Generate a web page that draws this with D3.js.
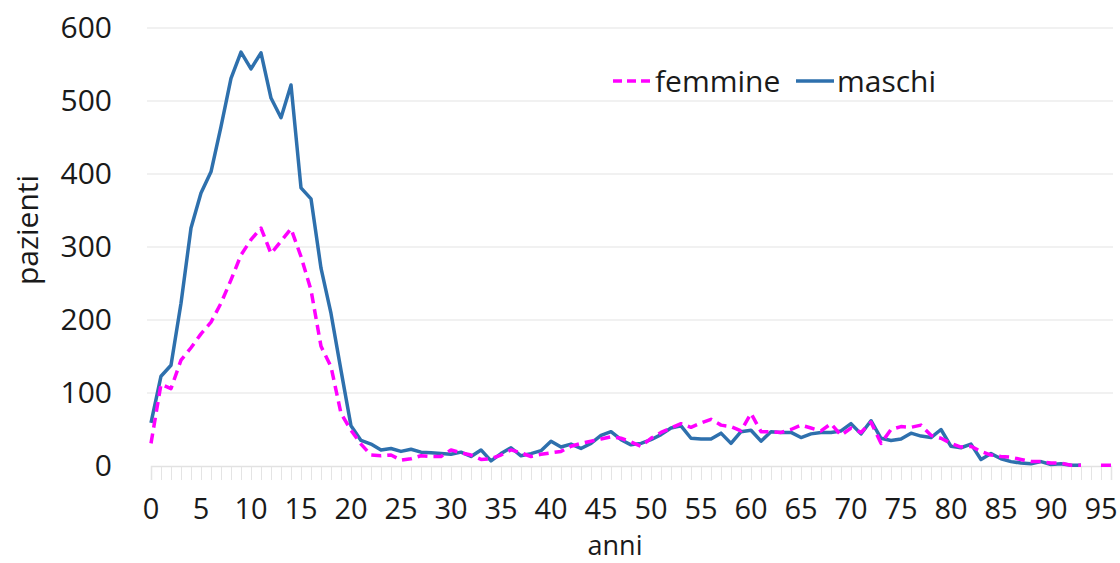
<!DOCTYPE html>
<html>
<head>
<meta charset="utf-8">
<script src="https://cdn.jsdelivr.net/npm/d3@7"></script>
<style>
  body { margin: 0; background: #fff; }
  text { font-family: "Open Sans", sans-serif; fill: #1a1a1a; }
</style>
</head>
<body>
<div id="chart"></div>
<script>
// patients per age, females (dashed) and males (solid)
var ages = d3.range(0, 97);
var yTicks = [0, 100, 200, 300, 400, 500, 600];
var xTicks = d3.range(0, 96, 5);

var maschi = [59, 123, 138, 223, 326, 374, 403, 465, 531, 567,
  544, 566, 504, 477, 522, 381, 366, 271, 209, 131,
  55, 35, 30, 22, 24, 20, 23, 19, 18, 17,
  16, 19, 13, 22, 7, 17, 25, 14, 17, 21,
  34, 26, 30, 24, 31, 42, 47, 36, 29, 31,
  36, 43, 52, 55, 38, 37, 37, 45, 31, 47,
  49, 34, 47, 46, 46, 39, 44, 46, 46, 48,
  58, 44, 62, 38, 35, 37, 45, 41, 39, 50,
  27, 25, 30, 9, 17, 10, 6, 4, 3, 6,
  2, 3, 1, 1, null, null, null];

var femmine = [31, 112, 106, 145, 162, 181, 197, 223, 255, 289,
  310, 326, 291, 308, 325, 287, 241, 164, 136, 72,
  49, 30, 15, 14, 15, 8, 10, 14, 13, 13,
  22, 18, 15, 9, 10, 15, 22, 18, 13, 16,
  18, 20, 27, 31, 34, 37, 40, 38, 33, 27,
  38, 46, 52, 58, 53, 59, 64, 56, 54, 48,
  72, 47, 47, 46, 50, 56, 52, 48, 58, 42,
  52, 46, 60, 31, 50, 54, 53, 56, 42, 38,
  31, 26, 27, 20, 15, 13, 12, 9, 6, 6,
  4, 4, 1, 1, null, 1, 1];

const svgWidth = 1120;
const svgHeight = 563;
const fontSize = "30px";

var x = d3.scaleLinear().domain([0, 96]).range([151, 1111]);
var y = d3.scaleLinear().domain([0, 600]).range([466, 28]);

var svg = d3.select("#chart").append("svg")
  .attr("width", svgWidth)
  .attr("height", svgHeight);

//horizontal gridlines
svg.append("g")
  .selectAll("line")
  .data(yTicks.slice(1))
  .enter()
  .append("line")
  .attr("x1", 147)
  .attr("x2", 1113)
  .attr("y1", function(d) { return y(d); })
  .attr("y2", function(d) { return y(d); })
  .attr("stroke", "#ececec")
  .attr("stroke-width", 1.5);

//x axis: baseline plus a small tick for every age
var xAxis = svg.append("g")
  .attr("transform", "translate(0," + y(0) + ")")
  .call(d3.axisBottom(x).tickValues(ages).tickSize(14).tickFormat(""));
xAxis.select(".domain").attr("stroke", "#e2e2e2").attr("stroke-width", 1.5);
xAxis.selectAll(".tick line").attr("stroke", "#e4e4e4").attr("stroke-width", 1);

//x tick labels every 5 years
svg.append("g")
  .selectAll("text")
  .data(xTicks)
  .enter()
  .append("text")
  .attr("x", function(d) { return x(d); })
  .attr("y", 519)
  .attr("text-anchor", "middle")
  .style("font-size", "29px")
  .text(function(d) { return d; });

//y axis labels (no line)
var yAxis = svg.append("g")
  .attr("transform", "translate(124,0)")
  .call(d3.axisLeft(y).tickValues(yTicks).tickSize(0).tickPadding(12));
yAxis.select(".domain").remove();
yAxis.selectAll("text")
  .style("font-size", fontSize)
  .style("font-family", "'Open Sans', sans-serif")
  .attr("fill", "#1a1a1a");

//axis titles
svg.append("text")
  .attr("x", 615)
  .attr("y", 555)
  .attr("text-anchor", "middle")
  .style("font-size", "27px")
  .text("anni");

svg.append("text")
  .attr("transform", "translate(38,230) rotate(-90)")
  .attr("text-anchor", "middle")
  .style("font-size", fontSize)
  .text("pazienti");

//the two series
var line = d3.line()
  .defined(function(d) { return d.v != null; })
  .x(function(d) { return x(d.age); })
  .y(function(d) { return y(d.v); });

function toPoints(values) {
  return ages.map(function(a, i) { return {age: a, v: values[i]}; });
}

svg.append("path")
  .datum(toPoints(maschi))
  .attr("d", line)
  .attr("fill", "none")
  .attr("stroke", "#2e70ad")
  .attr("stroke-width", 3.5)
  .attr("stroke-linejoin", "round");

svg.append("path")
  .datum(toPoints(femmine))
  .attr("d", line)
  .attr("fill", "none")
  .attr("stroke", "#ff00ff")
  .attr("stroke-width", 3.5)
  .attr("stroke-dasharray", "10,6")
  .attr("stroke-linejoin", "round");

//legend
var legend = svg.append("g");
legend.append("line")
  .attr("x1", 613).attr("x2", 652)
  .attr("y1", 81).attr("y2", 81)
  .attr("stroke", "#ff00ff")
  .attr("stroke-width", 3.5)
  .attr("stroke-dasharray", "9,5");
legend.append("text")
  .attr("x", 655).attr("y", 92)
  .style("font-size", fontSize)
  .text("femmine");
legend.append("line")
  .attr("x1", 796).attr("x2", 834)
  .attr("y1", 81).attr("y2", 81)
  .attr("stroke", "#2e70ad")
  .attr("stroke-width", 3.5);
legend.append("text")
  .attr("x", 837).attr("y", 92)
  .style("font-size", fontSize)
  .text("maschi");
</script>
</body>
</html>
